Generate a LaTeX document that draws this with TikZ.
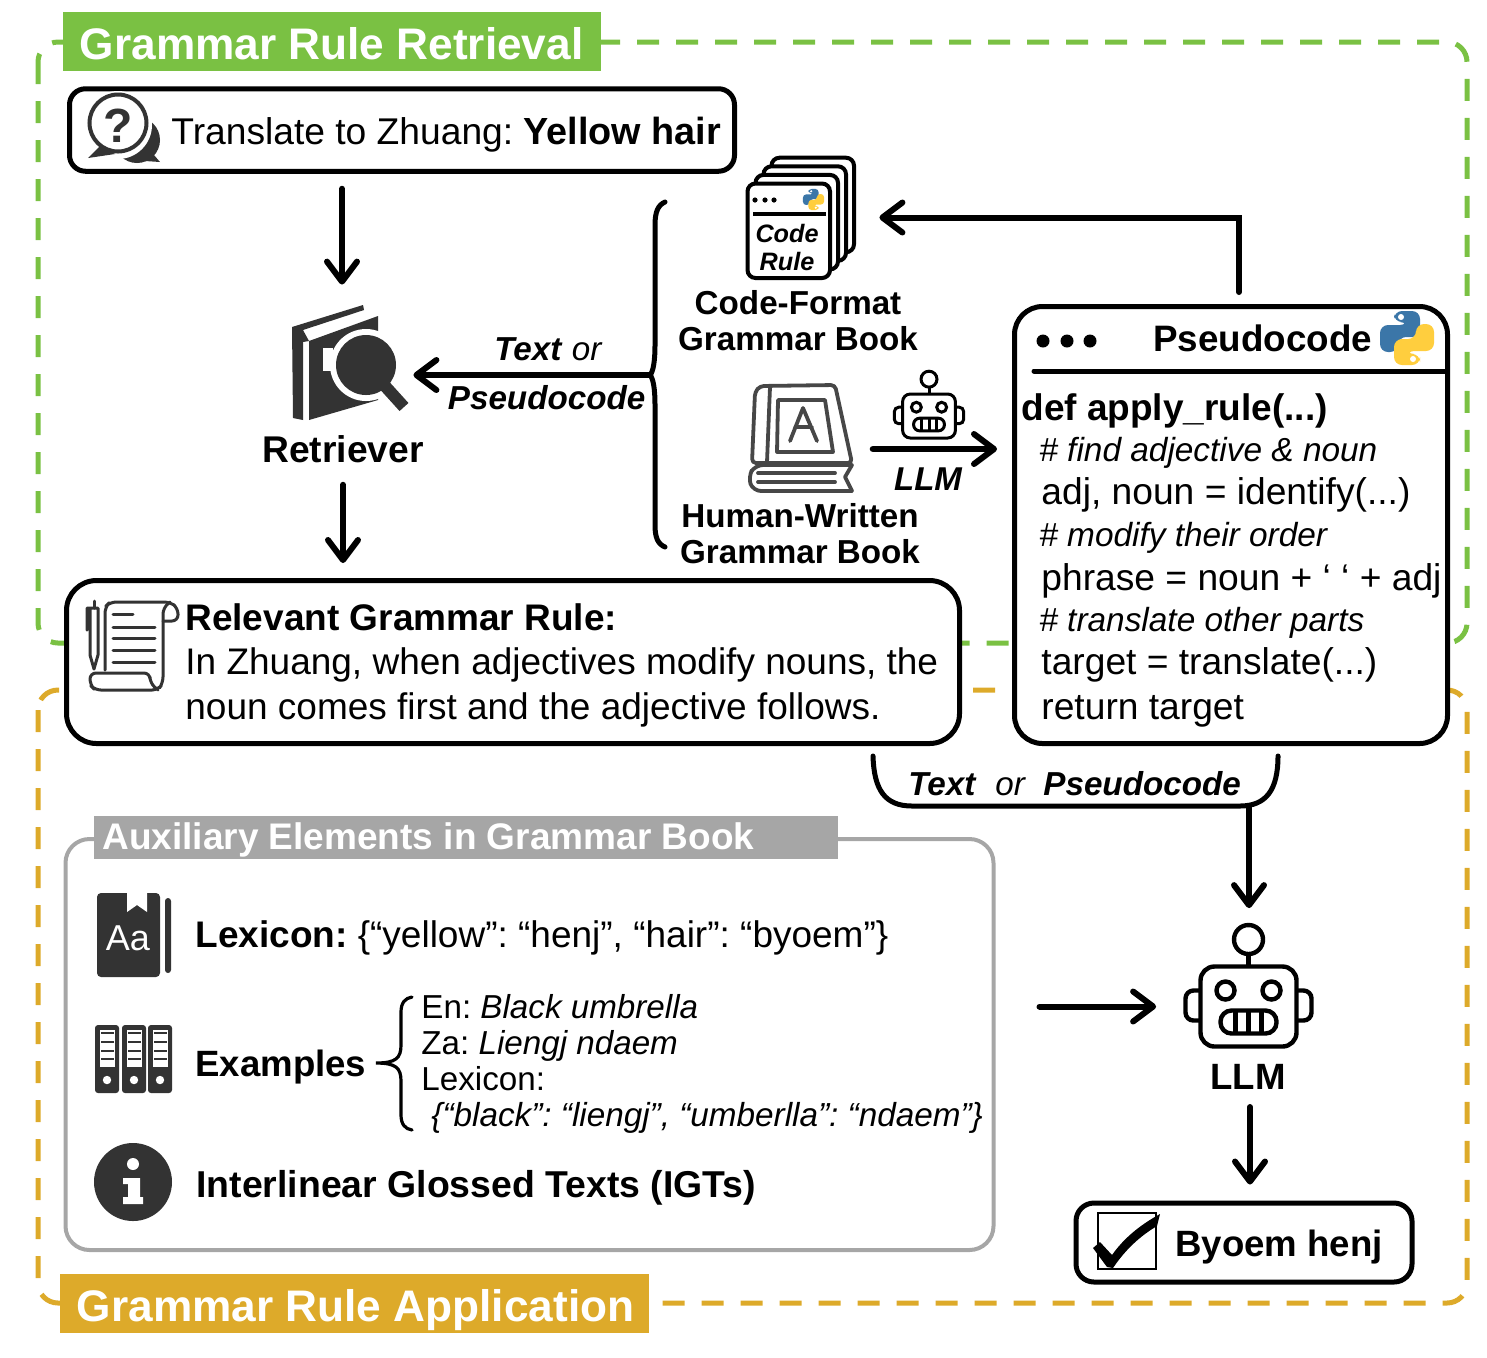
\documentclass[tikz,border=0pt]{standalone}
\usepackage{fontspec}
\setmainfont{Liberation Sans}
\usetikzlibrary{arrows.meta,calc}
\definecolor{grn}{HTML}{7AC143}
\definecolor{gld}{HTML}{DDAA2A}
\definecolor{gry}{HTML}{A6A6A6}
\definecolor{ico}{HTML}{333333}
\definecolor{pyb}{HTML}{3B76A8}
\definecolor{pyy}{HTML}{FFCE3E}
\newcommand{\fs}[1]{\fontsize{#1}{#1}\selectfont}
\tikzset{
  lnk/.style={line width=3pt,line cap=round,-{Straight Barb[length=10pt,width=15pt,line width=3pt,round]}},
  dashbox/.style={line width=2.5pt,rounded corners=10pt,dash pattern=on 11pt off 8.5pt},
  box/.style={draw=black,line width=2.5pt,fill=white,inner sep=0pt},
  txt/.style={anchor=base west,inner sep=0pt,text=black},
  ctxt/.style={anchor=base,inner sep=0pt,text=black},
  ghost/.style={inner sep=0pt},
  title/.style={anchor=base west,inner sep=0pt,text=white,font=\bfseries\fs{22.1}},
  iconline/.style={draw=ico,line width=1.5pt,line join=round,line cap=round},
}
% python logo
\newcommand{\pylogo}[2]{%
 \begin{scope}[shift={#1},scale=#2]
  \fill[pyb,rounded corners={#2*4pt}] (-13,-27)--(13,-27)--(13,-1)--(-9,-1)--(-9,14)--(-27,14)--(-27,-13)--(1,-13)--(1,-16)--(-13,-16)--cycle;
  \fill[pyy,rounded corners={#2*4pt}] (13,27)--(-13,27)--(-13,1)--(9,1)--(9,-14)--(27,-14)--(27,13)--(-1,13)--(-1,16)--(13,16)--cycle;
  \fill[white] (-6,-21) circle (3);
  \fill[white] (6,21) circle (3);
 \end{scope}}
% robot
\newcommand{\robotico}[3]{%
 \begin{scope}[shift={#1},scale=#2,line width=#3,draw=black]
  \draw (0,-67) circle (14.5);
  \draw (0,-52.5)--(0,-40);
  \draw[rounded corners={#2*4pt}] (-48,-16)--(-63,-16)--(-63,14)--(-48,14);
  \draw[rounded corners={#2*4pt}] (48,-16)--(63,-16)--(63,14)--(48,14);
  \draw[rounded corners={#2*7pt}] (-48,-40) rectangle (48,40);
  \draw (-23,-16) circle (9);
  \draw (23,-16) circle (9);
  \draw[rounded corners={#2*5.5pt}] (-28,4) rectangle (28,27);
  \draw (-13,4)--(-13,27) (0,4)--(0,27) (13,4)--(13,27);
 \end{scope}}
\begin{document}
\begin{tikzpicture}[x=0.5pt,y=-0.5pt]
\frenchspacing
\useasboundingbox (0,0) rectangle (1487,1357);
% dashed frames
\draw[dashbox,grn] (38,42) rectangle (1467,643);
\draw[dashbox,gld] (38,690) rectangle (1467,1303);
% titles
\node[ghost,fill=grn,minimum width=269pt,minimum height=29.5pt] (t1) at (332,41.5) {};
\node[title] (t1t) at (79.5,59) {Grammar Rule Retrieval};
\node[ghost,fill=gld,minimum width=294.5pt,minimum height=29.5pt] (t2) at (354.5,1303.5) {};
\node[title] (t2t) at (76.5,1321) {Grammar Rule Application};
% question box
\node[box,rounded corners=8pt,minimum width=332.5pt,minimum height=41.25pt] (q) at (402,130) {};
\fill[ico] (137,140) circle (23);
\fill[ico] (148,148) -- (160,162) -- (130,160) -- cycle;
\fill[white] (118,125) circle (34);
\draw[draw=ico,line width=2pt,fill=white] (118,123) circle (28.5);
\fill[ico] (100,146) -- (88,158) -- (115,154) -- cycle;
\node[ghost,text=ico,font=\bfseries\fs{24}] (qm) at (118,126) {?};
\node[txt,font=\fs{18.6}] (qtext) at (171,144) {Translate to Zhuang: \textbf{\fs{18.9}Yellow hair}};
% retriever
\node[ghost,minimum width=71pt,minimum height=57.5pt] (retricon) at (342,362.5) {};
\fill[ico] (292,327) -- (363,305) -- (364,310) -- (303,330) -- (309,341) -- (303,342) -- (303,420) -- (293,418) -- cycle;
\fill[ico] (309,341) -- (378,316) -- (378,400) -- (309,420) -- cycle;
\fill[white] (323,348) rectangle (333,371);
\draw[white,line width=8pt,line cap=round] (380,381) -- (396,401);
\fill[white] (366,365) circle (36);
\fill[ico] (366,365) circle (30);
\draw[ico,line width=6pt] (385,386) -- (404,407);
\node[ctxt,font=\bfseries\fs{18.6}] (retr) at (343,462) {Retriever};
% brace
\coordinate (bt) at (650,375);
\draw[line width=2.5pt,line cap=round] (665,202) .. controls (658,205) and (655,212) .. (655,225) -- (655,345) .. controls (655,362) and (653,372) .. (bt) .. controls (653,378) and (655,388) .. (655,405) -- (655,525) .. controls (655,538) and (658,544) .. (665,547);
\draw[lnk] (bt) -- (bt -| retricon.east);
\node[txt,font=\fs{16.6}] (tor) at (494,360) {\textbf{\textit{Text}} \textit{or}};
\node[txt,font=\bfseries\itshape\fs{16.6}] (tps) at (447.5,409) {Pseudocode};
% card stack
\node[ghost,minimum width=53pt,minimum height=60.5pt] (stack) at (800,217.5) {};
\foreach \d in {3,2,1,0}{
  \draw[line width=2pt,fill=white,rounded corners=4pt] ($(747.5,183.5)+(\d*8,-\d*8.6)$) rectangle ($(830,278)+(\d*8,-\d*8.6)$);
}
\draw[line width=2pt] (753,214) -- (826,214);
\foreach \x in {755,765,774}{\fill (\x,200) circle (2.6);}
\pylogo{(813.5,199.5)}{0.39}
\node[ctxt,font=\bfseries\itshape\fs{12.6}] (cd1) at (787,242) {Code};
\node[ctxt,font=\bfseries\itshape\fs{12.6}] (cd2) at (787,270) {Rule};
\node[ctxt,font=\bfseries\fs{16.6}] (cf1) at (798,314) {Code-Format};
\node[ctxt,font=\bfseries\fs{16.6}] (cf2) at (798,350) {Grammar Book};
% human book
\node[ghost,minimum width=52pt,minimum height=54pt] (hbook) at (800,439) {};
\begin{scope}[iconline,line width=1.9pt,draw=ico!90]
  \draw[rounded corners=2pt] (752,463) -- (755,392) -- (760,386) -- (835,385) -- (852,463) -- cycle;
  \draw (770,387) -- (767,462);
  \draw (778,400) -- (825,400) -- (833,452) -- (777,452) -- cycle;
  \draw (790,441) -- (803,408) -- (817,441) (795,427) -- (812,427);
  \draw[rounded corners=4pt] (852,465) -- (755,465) -- (748,477) -- (753,491) -- (852,491);
  \draw (852,465) -- (845,477) -- (852,491);
  \draw (758,473) -- (835,473) (758,482) -- (835,482);
\end{scope}
\node[ctxt,font=\bfseries\fs{16.6}] (hw1) at (800,527) {Human-Written};
\node[ctxt,font=\bfseries\fs{16.6}] (hw2) at (800,563) {Grammar Book};
% small robot
\node[ghost,minimum width=26pt,minimum height=21pt] (smr) at (929,416) {};
\robotico{(929,416)}{0.55}{1.5pt}
\node[ctxt,font=\bfseries\itshape\fs{16.5}] (llm1) at (928,490) {LLM};
% rule box
\node[box,rounded corners=15pt,minimum width=446.5pt,minimum height=81.5pt] (rule) at (513,662) {};
\begin{scope}[iconline]
  \draw[rounded corners=3pt] (105,670) -- (105,607) -- (110,602) -- (170,602) -- (178,608) -- (178,621) -- (163,621);
  \draw[rounded corners=3pt] (170,602) -- (163,608) -- (163,683) -- (158,690) -- (95,690) -- (90,685) -- (90,673) -- (150,673) -- (150,683) -- (158,690);
  \draw (113,614) -- (133,614);
  \foreach \y in {627,638,650,662}{\draw (113,\y) -- (155,\y);}
  \draw (87,630) -- (87,608) -- (98,608) -- (98,655) -- (94,669) -- (90,655) -- (90,608);
  \draw (94,601) -- (94,608);
\end{scope}
\node[txt,font=\bfseries\fs{18.5}] (r1) at (185,630) {Relevant Grammar Rule:};
\node[txt,font=\fs{18.5}] (r2) at (185,674) {In Zhuang, when adjectives modify nouns, the};
\node[txt,font=\fs{18.5}] (r3) at (185,719) {noun comes first and the adjective follows.};
\draw[lnk,shorten <=11pt,shorten >=7.5pt] (retr.south) -- (retr.south |- rule.north);
\draw[lnk,shorten <=7.5pt,shorten >=10pt] (q.south -| retricon) -- (retricon.north);
% pseudocode box
\node[box,rounded corners=14pt,minimum width=216.5pt,minimum height=218.5pt] (p) at (1231,525) {};
\foreach \x in {1043,1067,1090}{\fill (\x,341) circle (6.5);}
\draw[line width=2.5pt,line cap=round] (1034,371) -- (1447,371);
\node[txt,font=\bfseries\fs{18.4}] (pt) at (1153,351) {Pseudocode};
\pylogo{(1407,338)}{1}
\node[txt,font=\bfseries\fs{18.5}] (c0) at (1021,420) {def apply\_rule(...)};
\node[txt,font=\itshape\fs{16.7}] (c1) at (1039,461) {\# find adjective \& noun};
\node[txt,font=\fs{18.6}] (c2) at (1041,504) {adj, noun = identify(...)};
\node[txt,font=\itshape\fs{16.7}] (c3) at (1039,546) {\# modify their order};
\node[txt,font=\fs{18.6}] (c4) at (1041,590) {phrase = noun + ‘ ‘ + adj};
\node[txt,font=\itshape\fs{16.7}] (c5) at (1039,631) {\# translate other parts};
\node[txt,font=\fs{18.6}] (c6) at (1041,674) {target = translate(...)};
\node[txt,font=\fs{18.6}] (c7) at (1041,719) {return target};
\coordinate (pup) at (1239,292);
\draw[lnk,shorten >=13pt,line join=miter] (pup) |- (stack.east);
\coordinate (ls) at (873,449);
\draw[lnk,line width=3.3pt,shorten >=7.5pt] (ls) -- (ls -| p.west);
% bracket
\coordinate (bl) at (873,756);
\coordinate (br) at (1278,756);
\coordinate (bm) at (1249,806);
\draw[line width=2.5pt,line cap=round] (bl) .. controls (874,790) and (885,806) .. (912,806) -- (1240,806) .. controls (1266,806) and (1278,790) .. (br);
\node[txt,font=\fs{16.6}] (bt1) at (908,795) {\textbf{\textit{Text}}};
\node[txt,font=\itshape\fs{16.6}] (bt2) at (995,795) {or};
\node[txt,font=\bfseries\itshape\fs{16.6}] (bt3) at (1043,795) {Pseudocode};
% aux box
\node[draw=gry,line width=2pt,rounded corners=12pt,inner sep=0pt,minimum width=464pt,minimum height=205.5pt] (aux) at (529.5,1044.5) {};
\node[inner sep=0pt,fill=gry,minimum width=372pt,minimum height=21.5pt] (auxh) at (466,837.5) {};
\node[txt,text=white,font=\bfseries\fs{18.5}] (auxt) at (102,849) {Auxiliary Elements in Grammar Book};
% lexicon icon
\fill[ico,rounded corners=2pt] (97,893) rectangle (160,977);
\fill[white] (127,890) -- (127,912) -- (137,905) -- (147,912) -- (147,890) -- cycle;
\fill[ico,rounded corners=1.5pt] (165,898) rectangle (171,973);
\node[ghost,text=white,font=\fs{18}] (aa) at (128,938) {Aa};
\node[txt,font=\fs{18.5}] (lx) at (195,947) {\textbf{Lexicon:} \{“yellow”: “henj”, “hair”: “byoem”\}};
% binders
\foreach \x in {95,122,148}{
  \fill[ico,rounded corners=1.5pt] (\x,1025) rectangle ++(24,68);
  \fill[white] (\x+5,1030) rectangle ++(15,37);
  \foreach \y in {1033,1042,1051,1059}{\draw[ico,line width=1pt] (\x+6,\y) -- ++(13,0);}
  \fill[white] (\x+12,1080) circle (4.2);
}
\node[txt,font=\bfseries\fs{18.3}] (ex) at (195,1076) {Examples};
\coordinate (sb) at (376,1063);
\draw[line width=1.6pt,line cap=round] (412,997) .. controls (405,998) and (401,1003) .. (401,1012) -- (401,1045) .. controls (401,1058) and (396,1063) .. (sb) .. controls (396,1063) and (401,1068) .. (401,1081) -- (401,1115) .. controls (401,1124) and (405,1129) .. (412,1130);
\node[txt,font=\fs{16.6}] (e1) at (421,1018) {En: \textit{Black umbrella}};
\node[txt,font=\fs{16.6}] (e2) at (421,1054) {Za: \textit{Liengj ndaem}};
\node[txt,font=\fs{16.6}] (e3) at (421,1090) {Lexicon:};
\node[txt,font=\itshape\fs{16.65}] (e4) at (431,1126) {\{“black”: “liengj”, “umberlla”: “ndaem”\}};
% info
\fill[ico] (133,1182) circle (39);
\fill[white] (133,1164) circle (6);
\fill[white] (123,1178) -- (140,1178) -- (140,1197) -- (143,1197) -- (143,1204) -- (123,1204) -- (123,1197) -- (128,1197) -- (128,1184) -- (123,1184) -- cycle;
\node[txt,font=\bfseries\fs{18.7}] (igt) at (196,1197) {Interlinear Glossed Texts (IGTs)};
% big robot
\node[ghost,minimum width=48pt,minimum height=40pt] (bigr) at (1248.5,1006.5) {};
\robotico{(1248.5,1006.5)}{1}{2.2pt}
\draw[lnk,shorten >=29pt] (bm) -- (bm |- bigr.north);
\draw[lnk,shorten <=22pt,shorten >=22pt] (aux.east |- bigr) -- (bigr.west |- bigr);
\node[ctxt,font=\bfseries\fs{18.3}] (llm2) at (1248,1089) {LLM};
% output
\node[box,rounded corners=9pt,minimum width=168pt,minimum height=39.5pt] (out) at (1244,1242.5) {};
\coordinate (la) at (1250,1107);
\draw[lnk,shorten >=8pt] (la) -- (la |- out.north);
\draw[line width=1.3pt,fill=white] (1098,1213) rectangle (1156,1269);
\fill[black] (1093,1248) -- (1100,1242) -- (1112,1255) .. controls (1124,1238) and (1140,1225) .. (1160,1214) -- (1157,1226) .. controls (1140,1236) and (1125,1250) .. (1113,1268) -- (1107,1267) -- cycle;
\node[txt,font=\bfseries\fs{18.3}] (oo) at (1175,1256) {Byoem henj};
\end{tikzpicture}
\end{document}
